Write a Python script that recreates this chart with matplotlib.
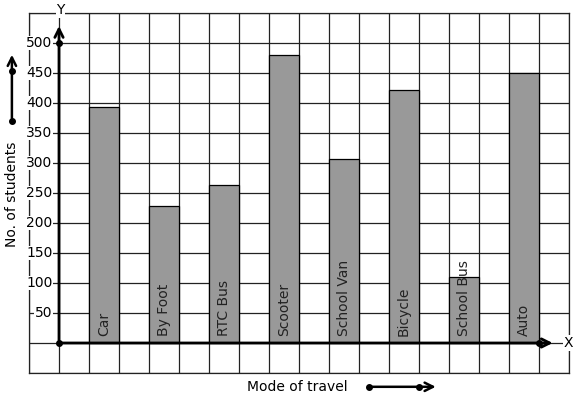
import numpy as np
import matplotlib.pyplot as plt

modes = ['Car', 'By Foot', 'RTC Bus', 'Scooter', 'School Van', 'Bicycle', 'School Bus', 'Auto']
students = [393, 228, 263, 480, 307, 422, 110, 450]
y_ticks = [50, 100, 150, 200, 250, 300, 350, 400, 450, 500]

fig = plt.figure(figsize=(5.77, 3.99), dpi=100)
ax = fig.add_axes([29/577, 26/399, 540/577, 360/399])
ax.set_xlim(-1, 17)
ax.set_ylim(-50, 550)

# graph paper grid
ax.set_xticks(np.arange(-1, 18))
ax.set_yticks(np.arange(-50, 551, 50))
ax.grid(True, color='#222222', lw=0.9)
ax.set_axisbelow(True)
ax.tick_params(length=0, labelbottom=False, labelleft=False)
for s in ax.spines.values():
    s.set_linewidth(0.9)
    s.set_color('#222222')

pos = 1.5 + 2*np.arange(len(modes))
ax.bar(pos, students, width=1, color='#999999', edgecolor='black', lw=0.9, zorder=2)
for x, name in zip(pos, modes):
    ax.text(x, 12, name, rotation=90, ha='center', va='bottom', fontsize=10,
            color='#222222', zorder=3)

# axes with arrows
ax.annotate('', xy=(0, 533), xytext=(0, 0),
            arrowprops=dict(arrowstyle='->,head_length=0.6,head_width=0.3', lw=2, color='black'),
            zorder=4)
ax.annotate('', xy=(16.55, 0), xytext=(0, 0),
            arrowprops=dict(arrowstyle='->,head_length=0.6,head_width=0.3', lw=2, color='black'),
            zorder=4)
ax.plot([0, 0, 16], [0, 500, 0], 'ko', ms=4, zorder=5)
ax.text(0.05, 555, 'Y', ha='center', va='center', fontsize=10, clip_on=False,
        bbox=dict(fc='white', ec='none', pad=0.5))
ax.text(16.97, 0, 'X', ha='center', va='center', fontsize=10, clip_on=False,
        bbox=dict(fc='white', ec='none', pad=0.5))

for v in y_ticks:
    ax.text(-0.22, v, str(v), ha='right', va='center', fontsize=10, zorder=3,
            bbox=dict(fc='white', ec='none', pad=0.3))

# axis titles with little arrows
ax.text(-1.57, 247, 'No. of students', rotation=90, ha='center', va='center',
        fontsize=10, clip_on=False)
ax.annotate('', xy=(-1.57, 485), xytext=(-1.57, 370), annotation_clip=False,
            arrowprops=dict(arrowstyle='->,head_length=0.6,head_width=0.3', lw=1.8, color='black'))
ax.plot([-1.57, -1.57], [370, 453], 'ko', ms=4, clip_on=False)

ax.text(7.95, -73, 'Mode of travel', ha='center', va='center', fontsize=10, clip_on=False)
ax.annotate('', xy=(12.65, -73), xytext=(10.33, -73), annotation_clip=False,
            arrowprops=dict(arrowstyle='->,head_length=0.6,head_width=0.3', lw=1.8, color='black'))
ax.plot([10.33, 12.0], [-73, -73], 'ko', ms=4, clip_on=False)

fig.savefig('out.png', dpi=100)
